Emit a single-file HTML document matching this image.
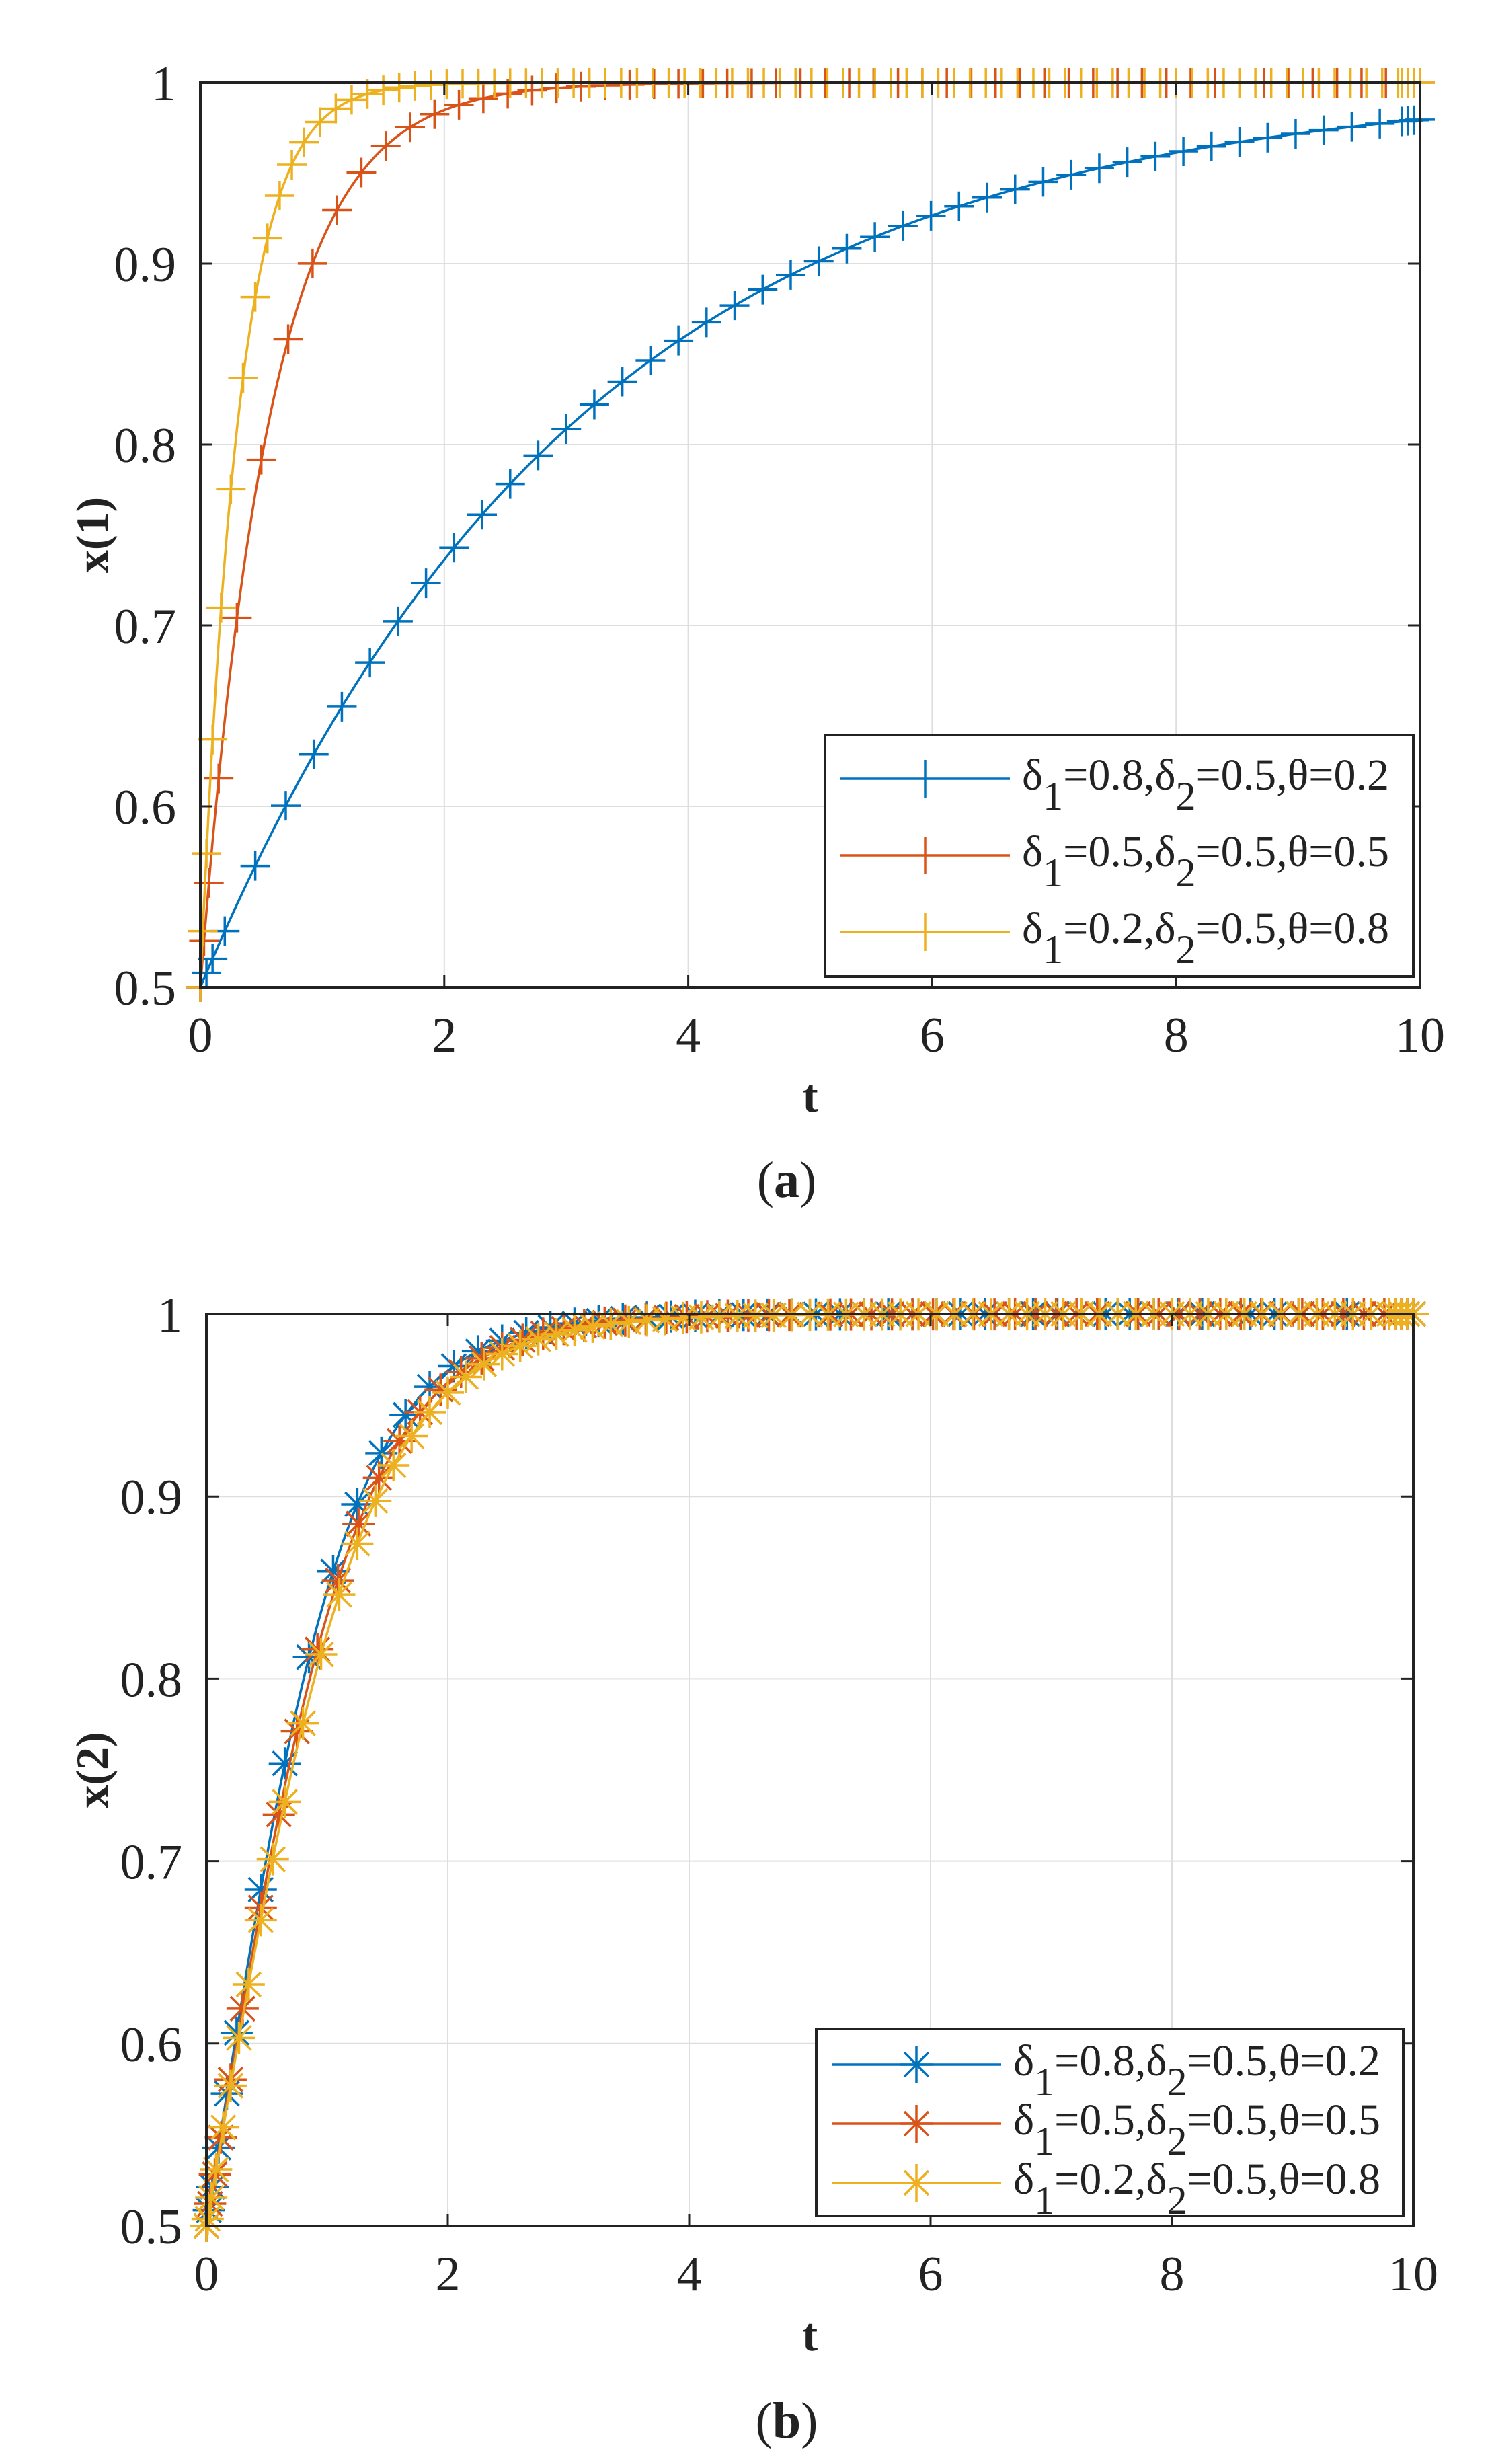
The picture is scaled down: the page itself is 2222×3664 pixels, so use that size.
<!DOCTYPE html>
<html><head><meta charset="utf-8">
<style>
html,body{margin:0;padding:0;background:#fff;}
svg{display:block;}
text{font-family:"Liberation Serif","DejaVu Serif",serif;fill:#222;}
</style></head>
<body>
<svg id="s" width="2222" height="3664" viewBox="0 0 2222 3664" xmlns="http://www.w3.org/2000/svg">
<rect width="2222" height="3664" fill="#fff"/>
<g id="g"></g>
</svg>
<script>
const NS="http://www.w3.org/2000/svg";
const G=document.getElementById('g');
function el(tag,attrs,parent){const e=document.createElementNS(NS,tag);for(const k in attrs)e.setAttribute(k,attrs[k]);(parent||G).appendChild(e);return e;}
const C=['#0072BD','#D95319','#EDB120'];

function panel(P){
  const {x0,x1,y0,y1}=P;
  const X=t=>x0+t/10*(x1-x0), Y=v=>y1-(v-0.5)/0.5*(y1-y0);
  for(let t=2;t<10;t+=2) el('line',{x1:X(t),x2:X(t),y1:y0,y2:y1,stroke:'#dedede','stroke-width':2});
  for(let v=0.6;v<0.99;v+=0.1) el('line',{x1:x0,x2:x1,y1:Y(v),y2:Y(v),stroke:'#dedede','stroke-width':2});
  P.series.forEach((s,i)=>{
    let d='';
    for(let k=0;k<=400;k++){const t=k/40;d+=(k?'L':'M')+X(t).toFixed(1)+' '+Y(s.f(t)).toFixed(1);}
    el('path',{d:d,fill:'none',stroke:C[i],'stroke-width':3.5});
    let m='';const a=P.star?24:22;
    s.ts.forEach(t=>{const x=X(t),y=Y(s.f(t));
      m+=`M${x-a} ${y}h${2*a}M${x} ${y-a}v${2*a}`;
      if(P.star){const b=18;m+=`M${x-b} ${y-b}l${2*b} ${2*b}M${x-b} ${y+b}l${2*b} ${-2*b}`;}
    });
    el('path',{d:m,fill:'none',stroke:C[i],'stroke-width':3.5});
  });
  el('rect',{x:x0,y:y0,width:x1-x0,height:y1-y0,fill:'none',stroke:'#222','stroke-width':4});
  let tk='';
  for(let t=0;t<=10;t+=2){tk+=`M${X(t)} ${y1}v-18M${X(t)} ${y0}v18`;}
  for(let v=0.5;v<=1.001;v+=0.1){tk+=`M${x0} ${Y(v)}h18M${x1} ${Y(v)}h-18`;}
  el('path',{d:tk,stroke:'#222','stroke-width':3,fill:'none'});
  for(let t=0;t<=10;t+=2){const e=el('text',{x:X(t),y:y1+96,'font-size':74,'text-anchor':'middle'});e.textContent=t;}
  ['0.5','0.6','0.7','0.8','0.9','1'].forEach((l,i)=>{const e=el('text',{x:x0-36,y:Y(0.5+i*0.1)+26,'font-size':74,'text-anchor':'end'});e.textContent=l;});
  let e=el('text',{x:(x0+x1)/2,y:y1+185,'font-size':70,'font-weight':'bold','text-anchor':'middle'});e.textContent='t';
  e=el('text',{x:0,y:0,'font-size':68,'font-weight':'bold','text-anchor':'middle',transform:`translate(160 ${(y0+y1)/2}) rotate(-90)`});e.textContent=P.ylab;
  e=el('text',{x:1170,y:P.capY,'font-size':76,'text-anchor':'middle'});
  e.innerHTML='(<tspan font-weight="bold">'+P.cap+'</tspan>)';
  const L=P.leg;
  el('rect',{x:L.x,y:L.y,width:L.w,height:L.h,fill:'#fff',stroke:'#222','stroke-width':4});
  const labels=[['0.8','0.2'],['0.5','0.5'],['0.2','0.8']];
  labels.forEach((lb,i)=>{
    const cy=L.y+L.r0+i*L.dr, lx=L.x+23, mx=L.x+149;
    el('line',{x1:lx,x2:lx+252,y1:cy,y2:cy,stroke:C[i],'stroke-width':3.5});
    let m=`M${mx} ${cy-28}v56`;
    if(P.star){m+=`M${mx-24} ${cy}h48M${mx-18} ${cy-18}l36 36M${mx-18} ${cy+18}l36 -36`;}
    el('path',{d:m,stroke:C[i],'stroke-width':3.5,fill:'none'});
    const t=el('text',{x:L.x+293,y:cy+16,'font-size':66});
    t.innerHTML=`δ<tspan dy="30" font-size="60">1</tspan><tspan dy="-30">=${lb[0]},δ</tspan><tspan dy="30" font-size="60">2</tspan><tspan dy="-30">=0.5,θ=${lb[1]}</tspan>`;
  });
}
function seq(first,step,end){const a=first.slice();let t=a[a.length-1];while(t+step<end-0.1){t+=step;a.push(+t.toFixed(3));}a.push(9.85,9.9,9.95,10);return a;}
const ex=k=>t=>1-0.5*Math.exp(-k*t);
const lg=r=>t=>1/(1+Math.exp(-r*t));

panel({x0:298,x1:2112,y0:123,y1:1468,ylab:'x(1)',cap:'a',capY:1780,star:false,
 series:[
  {f:ex(0.32),ts:seq([0,0.05,0.1,0.2,0.45,0.7],0.23,10)},
  {f:ex(1.75),ts:seq([0,0.03,0.07,0.15,0.3,0.5,0.72,0.92,1.12,1.32],0.2,10)},
  {f:ex(3.2),ts:seq([0,0.02,0.05,0.1,0.17,0.25,0.35,0.45,0.55,0.65,0.75,0.85],0.13,10)}
 ],
 leg:{x:1227,y:1093,w:875,h:359,r0:65,dr:114}});

panel({x0:307,x1:2102,y0:1954,y1:3310,ylab:'x(2)',cap:'b',capY:3625,star:true,
 series:[
  {f:lg(1.72),ts:seq([0,0.02,0.05,0.1,0.17,0.25],0.2,10)},
  {f:lg(1.62),ts:seq([0,0.03,0.07,0.12,0.2,0.3,0.45,0.6,0.75],0.17,10)},
  {f:lg(1.55),ts:seq([0,0.01,0.04,0.08,0.14,0.2,0.27,0.35,0.45,0.55,0.65],0.15,10)}
 ],
 leg:{x:1214,y:3017,w:873,h:278,r0:53,dr:88}});
</script>
</body></html>
